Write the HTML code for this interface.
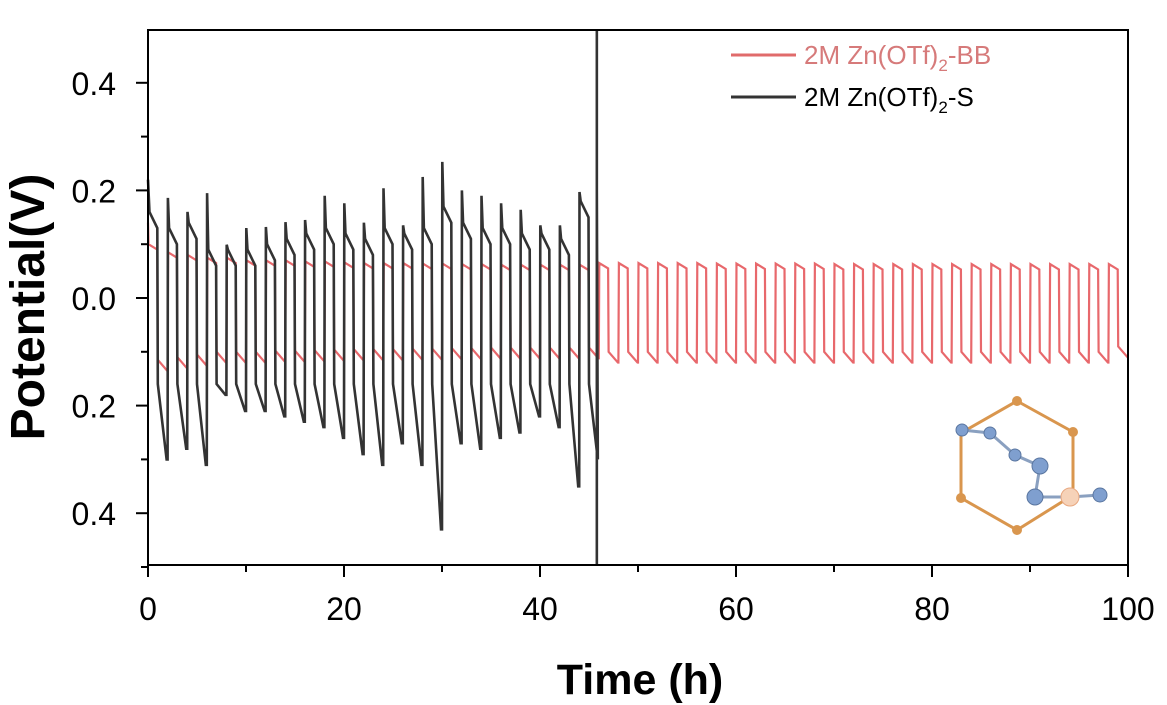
<!DOCTYPE html>
<html><head><meta charset="utf-8"><style>
html,body{margin:0;padding:0;background:#fff;}
svg{display:block;font-family:"Liberation Sans",Arial,sans-serif;}
</style></head><body>
<svg id="chart" width="1167" height="705" viewBox="0 0 1167 705" xmlns="http://www.w3.org/2000/svg">
<g id="series"></g>
<g id="axes"></g>
<g>
<line x1="731" y1="55" x2="796" y2="55" stroke="#e06b6b" stroke-width="3"/>
<text x="804" y="64" font-size="26" fill="#d67a7a">2M Zn(OTf)<tspan font-size="17" dy="7">2</tspan><tspan dy="-7">-BB</tspan></text>
<line x1="731" y1="97" x2="796" y2="97" stroke="#333" stroke-width="3"/>
<text x="804" y="106" font-size="26" fill="#000">2M Zn(OTf)<tspan font-size="17" dy="7">2</tspan><tspan dy="-7">-S</tspan></text>
</g>
<g>
<polygon points="1017,401 1073,432 1073,495 1017,530 961,498 961,433" fill="none" stroke="#d9964e" stroke-width="3"/>
<g fill="#d9964e"><circle cx="1017" cy="401" r="5"/><circle cx="1073" cy="432" r="5"/><circle cx="1017" cy="530" r="5"/><circle cx="961" cy="498" r="5"/></g>
<polyline points="962,430 990,433 1015,455 1040,466 1035,497 1070,497 1100,495" fill="none" stroke="#8aa0c0" stroke-width="3"/>
<g fill="#7f9fcf" stroke="#5a76a0" stroke-width="1"><circle cx="962" cy="430" r="6"/><circle cx="990" cy="433" r="6"/><circle cx="1015" cy="455" r="6"/><circle cx="1040" cy="466" r="8"/><circle cx="1035" cy="497" r="8"/><circle cx="1100" cy="495" r="7"/></g>
<circle cx="1070" cy="497" r="9" fill="#f6d2b8" stroke="#e8a880"/>
</g>
<text x="640" y="694" font-size="43" font-weight="bold" text-anchor="middle">Time (h)</text>
<text transform="translate(44,307) rotate(-90)" font-size="48" font-weight="bold" text-anchor="middle">Potential(V)</text>
</svg>
<script>
// black series (2M Zn(OTf)2-S): per-cycle spike high, plateau, low
const blackHigh=[0.214,0.186,0.16,0.195,0.099,0.13,0.132,0.141,0.145,0.19,0.176,0.14,0.204,0.135,0.225,0.253,0.2,0.19,0.176,0.164,0.135,0.135,0.197];
const blackPlat=[0.13,0.1,0.11,0.06,0.06,0.06,0.07,0.08,0.09,0.1,0.09,0.08,0.1,0.09,0.1,0.14,0.11,0.1,0.1,0.09,0.09,0.08,0.15];
const blackLow=[-0.30,-0.28,-0.31,-0.18,-0.21,-0.21,-0.22,-0.23,-0.24,-0.26,-0.29,-0.31,-0.27,-0.31,-0.43,-0.27,-0.28,-0.26,-0.25,-0.22,-0.24,-0.35,-0.30];
// red series (2M Zn(OTf)2-BB): per-cycle high and low
const redHigh=[0.09,0.075,0.07,0.065,0.065,0.06,0.06,0.06,0.058,0.058,0.056,0.055,0.055,0.055,0.054,0.054,0.053,0.053,0.052,0.052,0.052,0.052,0.052,0.055,0.055,0.055,0.055,0.055,0.055,0.054,0.054,0.054,0.054,0.054,0.054,0.053,0.053,0.053,0.053,0.053,0.053,0.053,0.053,0.053,0.053,0.053,0.053,0.053,0.053,0.053];
const redLow=[-0.135,-0.13,-0.125,-0.12,-0.12,-0.12,-0.118,-0.118,-0.117,-0.116,-0.115,-0.115,-0.115,-0.114,-0.114,-0.113,-0.113,-0.112,-0.112,-0.112,-0.112,-0.112,-0.112,-0.12,-0.12,-0.12,-0.12,-0.12,-0.12,-0.12,-0.12,-0.12,-0.12,-0.12,-0.12,-0.12,-0.12,-0.12,-0.12,-0.12,-0.12,-0.12,-0.12,-0.12,-0.12,-0.12,-0.12,-0.12,-0.12,-0.11];
const xTicks=[0,20,40,60,80,100];
const yTicks=[0.4,0.2,0.0,-0.2,-0.4];
const yTickLabels=["0.4","0.2","0.0","0.2","0.4"];
const cyclePeriod=2; const blackEnd=45.8;

const X0=148,X1=1128,YT=30,YB=565;
const sx=t=>X0+(X1-X0)*t/100;
const sy=v=>298-v*538;
const NS="http://www.w3.org/2000/svg";
const ser=document.getElementById('series'), ax=document.getElementById('axes');
function mk(tag,attrs,parent){const e=document.createElementNS(NS,tag);for(const k in attrs)e.setAttribute(k,attrs[k]);parent.appendChild(e);return e;}

// red
let rp=[];
rp.push([sx(0),sy(0.14)]);
for(let i=0;i<redHigh.length;i++){
  const t=i*cyclePeriod;
  rp.push([sx(t+0.05),sy(redHigh[i]+0.01)]);
  rp.push([sx(t+0.95),sy(redHigh[i])]);
  rp.push([sx(t+1.0),sy(redLow[i]+0.02)]);
  rp.push([sx(t+1.95),sy(redLow[i])]);
  rp.push([sx(t+2.0),sy(redLow[i])]);
}
const red=mk('polyline',{points:rp.map(p=>p.join(',')).join(' '),fill:'none',stroke:'#e8686c','stroke-width':2.2},ser);



// black
let bp=[];
bp.push([sx(0),sy(0.22)]);
for(let i=0;i<blackHigh.length;i++){
  const t=i*cyclePeriod;
  if(i>0){bp.push([sx(t),sy(blackLow[i-1])]);bp.push([sx(t+0.03),sy(blackHigh[i])]);}
  bp.push([sx(t+0.15),sy(blackPlat[i]+0.03)]);
  bp.push([sx(t+0.95),sy(blackPlat[i])]);
  bp.push([sx(t+1.0),sy(-0.16)]);
  bp.push([sx(t+1.9),sy(blackLow[i])]);
}
bp.push([sx(blackEnd),sy(0.2)]);
bp.push([sx(blackEnd),YT]);
bp.push([sx(blackEnd),YB]);
const blk=mk('polyline',{points:bp.map(p=>p.join(',')).join(' '),fill:'none',stroke:'#333','stroke-width':2.6},ser);



// frame
const fr=mk('rect',{x:X0,y:YT,width:X1-X0,height:YB-YT,fill:'none',stroke:'#000','stroke-width':2},ax);


for(let t=0;t<=100;t+=10){
  const major=t%20===0;
  const l=mk('line',{x1:sx(t),x2:sx(t),y1:YB,y2:YB+(major?12:7),stroke:'#000','stroke-width':2},ax);
  
  
}
xTicks.forEach(t=>{
  const tx=mk('text',{x:sx(t),y:YB+55,'font-size':32,'text-anchor':'middle'},ax);
  tx.textContent=t;
  
  
});
for(let k=-5;k<=4;k++){
  const v=k*0.1;
  const major=k%2===0;
  const l=mk('line',{x1:X0-(major?12:7),x2:X0,y1:sy(v),y2:sy(v),stroke:'#000','stroke-width':2},ax);
  
  
}
yTicks.forEach((v,i)=>{
  const tx=mk('text',{x:X0-32,y:sy(v)+12,'font-size':32,'text-anchor':'end'},ax);
  tx.textContent=yTickLabels[i];
  
  
});
</script>
</body></html>
